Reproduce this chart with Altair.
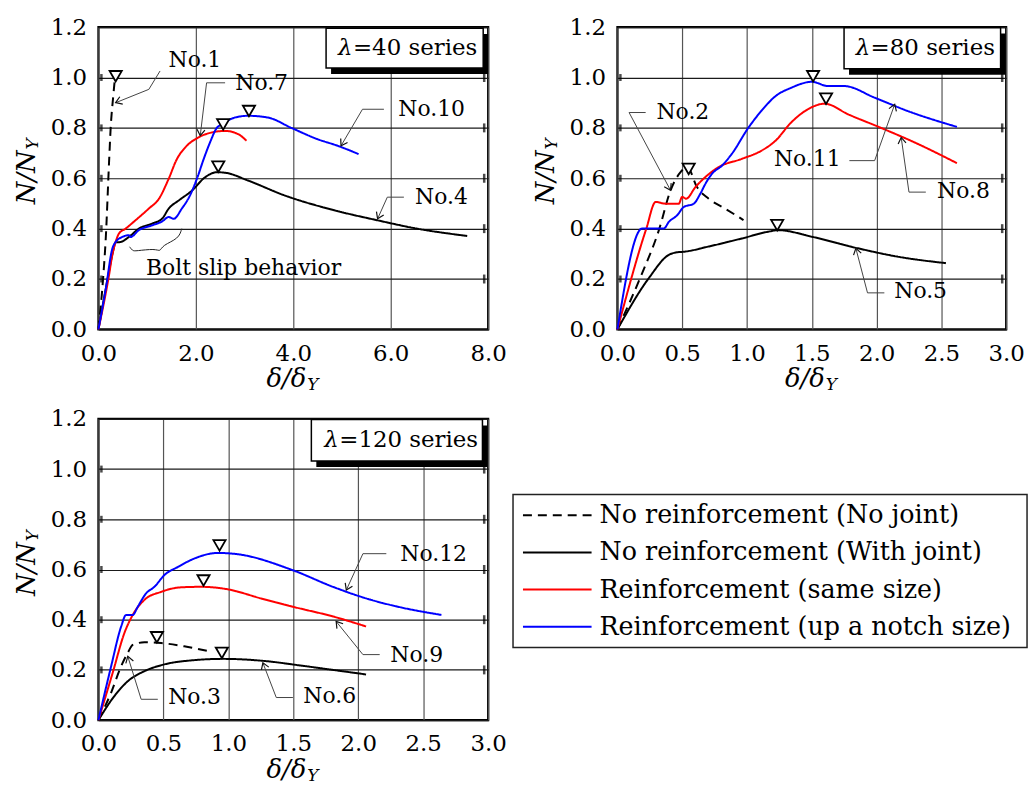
import math
import altair as alt
import pandas as pd

FONT = "DejaVu Serif"

# ---------------- legend categories ----------------
types = ["No reinforcement (No joint)", "No reinforcement (With joint)",
         "Reinforcement (same size)", "Reinforcement (up a notch size)"]
type_colors = ["#000000", "#000000", "#ff0000", "#0000ff"]
type_dash = [[9, 6], [1, 0], [1, 0], [1, 0]]

# ---------------- λ=40 series ----------------
no1_x = [0, 0.095, 0.15, 0.218, 0.25, 0.306, 0.333]
no1_y = [0, 0.20, 0.36, 0.663, 0.795, 0.93, 0.986]
no4_x = [0, 0.15, 0.30, 0.35, 0.455, 0.626, 0.83, 1.10, 1.31, 1.44, 1.65, 1.92, 2.19, 2.43, 2.60,
         3.07, 3.82, 4.84, 5.73, 6.54, 7.57]
no4_y = [0, 0.16, 0.31, 0.345, 0.347, 0.367, 0.40, 0.42, 0.44, 0.479, 0.512, 0.551, 0.604, 0.624,
         0.622, 0.591, 0.532, 0.473, 0.433, 0.40, 0.371]
no7_x = [0, 0.204, 0.30, 0.353, 0.42, 0.557, 0.76, 1.03, 1.24, 1.44, 1.61, 1.78, 2.05, 2.33, 2.6,
         2.87, 3.04]
no7_y = [0, 0.2, 0.31, 0.347, 0.38, 0.40, 0.433, 0.479, 0.518, 0.597, 0.676, 0.722, 0.762, 0.782,
         0.788, 0.775, 0.749]
no10_x = [0, 0.15, 0.286, 0.353, 0.49, 0.626, 0.66, 0.83, 1.10, 1.31, 1.44, 1.545, 1.71, 1.88, 2.02,
          2.16, 2.29, 2.43, 2.53, 2.80, 3.07, 3.48, 3.96, 4.50, 4.91, 5.34]
no10_y = [0, 0.16, 0.321, 0.347, 0.367, 0.374, 0.367, 0.394, 0.413, 0.429, 0.446, 0.439, 0.479, 0.532,
          0.597, 0.676, 0.742, 0.80, 0.814, 0.841, 0.848, 0.841, 0.80, 0.755, 0.729, 0.696]
p1_mark_x = [0.354, 2.56, 3.09, 2.46]
p1_mark_y = [1.005, 0.814, 0.867, 0.646]
p1_lab_text = ["No.1", "No.7", "No.10", "No.4", "Bolt slip behavior"]
p1_lab_x = [1.98, 3.35, 6.84, 7.04, 2.98]
p1_lab_y = [1.07, 0.979, 0.876, 0.525, 0.242]
p1_leaders = {
    "No.1": ([1.265, 1.035, 0.353], [1.026, 0.953, 0.90]),
    "No.7": ([2.60, 2.22, 2.09], [0.979, 0.979, 0.769]),
    "No.10": ([5.86, 5.42, 4.98], [0.874, 0.874, 0.729]),
    "No.4": ([6.27, 5.93, 5.73], [0.525, 0.525, 0.439]),
}
p1_brace_x = [0.64, 0.70, 0.76, 1.17, 1.27, 1.31, 1.65, 1.71]
p1_brace_y = [0.328, 0.312, 0.311, 0.321, 0.308, 0.334, 0.36, 0.40]
p1_box_x = [4.673, 7.898]
p1_box_y = [1.038, 1.196]

# ---------------- λ=80 series ----------------
no2_x = [0, 0.18, 0.32, 0.41, 0.487, 0.54, 0.614, 0.704, 0.83, 0.973]
no2_y = [0, 0.21, 0.394, 0.552, 0.624, 0.644, 0.565, 0.519, 0.48, 0.434]
no5_x = [0, 0.243, 0.397, 0.448, 0.525, 0.704, 0.96, 1.165, 1.24, 1.50, 1.856, 2.16, 2.535]
no5_y = [0, 0.204, 0.296, 0.305, 0.309, 0.329, 0.361, 0.388, 0.394, 0.368, 0.322, 0.289, 0.263]
no8_x = [0, 0.223, 0.295, 0.372, 0.474, 0.499, 0.53, 0.602, 0.679, 0.78, 0.96, 1.11, 1.22, 1.34,
         1.47, 1.60, 1.78, 2.035, 2.32, 2.62]
no8_y = [0, 0.40, 0.506, 0.499, 0.499, 0.526, 0.519, 0.565, 0.605, 0.644, 0.677, 0.709, 0.749,
         0.821, 0.874, 0.896, 0.854, 0.80, 0.736, 0.66]
no11_x = [0, 0.192, 0.359, 0.397, 0.461, 0.512, 0.589, 0.64, 0.679, 0.73, 0.806, 0.883, 1.01, 1.11,
          1.22, 1.34, 1.50, 1.626, 1.75, 1.985, 2.24, 2.62]
no11_y = [0, 0.401, 0.401, 0.427, 0.453, 0.486, 0.499, 0.539, 0.578, 0.618, 0.650, 0.697, 0.80,
          0.867, 0.926, 0.959, 0.983, 0.966, 0.966, 0.92, 0.867, 0.804]
p2_mark_x = [0.55, 1.51, 1.61, 1.233]
p2_mark_y = [0.637, 1.005, 0.916, 0.414]
p2_lab_text = ["No.2", "No.11", "No.8", "No.5"]
p2_lab_x = [0.505, 1.465, 2.67, 2.34]
p2_lab_y = [0.862, 0.677, 0.551, 0.153]
p2_leaders = {
    "No.2": ([0.218, 0.09, 0.41], [0.861, 0.861, 0.552]),
    "No.11": ([1.79, 1.985, 2.14], [0.67, 0.67, 0.894]),
    "No.8": ([2.38, 2.25, 2.19], [0.545, 0.545, 0.762]),
    "No.5": ([2.06, 1.93, 1.84], [0.145, 0.145, 0.322]),
}
p2_box_x = [1.749, 2.957]
p2_box_y = [1.035, 1.198]

# ---------------- λ=120 series ----------------
no3_x = [0, 0.098, 0.175, 0.226, 0.264, 0.354, 0.483, 0.66, 0.855]
no3_y = [0, 0.11, 0.215, 0.268, 0.30, 0.31, 0.307, 0.294, 0.274]
no6_x = [0, 0.123, 0.226, 0.354, 0.508, 0.74, 0.958, 1.29, 1.55, 1.805, 2.06]
no6_y = [0, 0.096, 0.155, 0.195, 0.222, 0.239, 0.244, 0.235, 0.218, 0.20, 0.182]
no9_x = [0, 0.11, 0.20, 0.264, 0.354, 0.483, 0.637, 0.79, 0.996, 1.25, 1.51, 1.805, 2.06]
no9_y = [0, 0.189, 0.347, 0.419, 0.479, 0.511, 0.529, 0.531, 0.521, 0.485, 0.45, 0.413, 0.373]
no12_x = [0, 0.098, 0.175, 0.213, 0.264, 0.303, 0.367, 0.431, 0.508, 0.611, 0.74, 0.919, 1.07,
          1.497, 1.805, 2.06, 2.32, 2.64]
no12_y = [0, 0.215, 0.373, 0.419, 0.419, 0.452, 0.505, 0.531, 0.578, 0.61, 0.644, 0.666, 0.661,
          0.597, 0.531, 0.485, 0.45, 0.419]
p3_mark_x = [0.45, 0.932, 0.809, 0.95]
p3_mark_y = [0.33, 0.696, 0.556, 0.268]
p3_lab_text = ["No.12", "No.9", "No.3", "No.6"]
p3_lab_x = [2.58, 2.45, 0.74, 1.78]
p3_lab_y = [0.663, 0.261, 0.09, 0.096]
p3_leaders = {
    "No.12": ([2.216, 2.036, 1.908], [0.663, 0.663, 0.518]),
    "No.9": ([2.165, 2.036, 1.83], [0.261, 0.261, 0.393]),
    "No.3": ([0.457, 0.329, 0.226], [0.083, 0.083, 0.254]),
    "No.6": ([1.497, 1.369, 1.266], [0.09, 0.09, 0.228]),
}
p3_box_x = [1.639, 2.956]
p3_box_y = [1.032, 1.197]

Y_TICKS = [0, 0.2, 0.4, 0.6, 0.8, 1.0, 1.2]


def curves_df(curves):
    rows = []
    for name, t, xs, ys in curves:
        for i, (a, b) in enumerate(zip(xs, ys)):
            rows.append({"series": name, "type": types[t], "x": a, "y": b, "i": i})
    return pd.DataFrame(rows)


def make_panel(curves, mk_x, mk_y, lab_t, lab_x, lab_y, leaders, box_x, box_y, box_rest,
               xmax, xticks, W, H, brace=None):
    xs = alt.Scale(domain=[0, xmax], nice=False)
    ys = alt.Scale(domain=[0, 1.2], nice=False)
    xaxis = alt.Axis(values=xticks, format=".1f", title="", ticks=False, domain=False,
                     labelPadding=13, labelFlush=False, gridColor="#555", gridWidth=1.2)
    yaxis = alt.Axis(values=Y_TICKS, format=".1f", title="", ticks=False, domain=False,
                     labelPadding=12, labelFlush=False, gridColor="#1a1a1a", gridWidth=1.2)

    def X(f="x"):
        return alt.X(f"{f}:Q", scale=xs, axis=xaxis)

    def Y(f="y"):
        return alt.Y(f"{f}:Q", scale=ys, axis=yaxis)

    cdf = curves_df(curves)
    lines = alt.Chart(cdf).mark_line(strokeWidth=2, interpolate="monotone").encode(
        x=X(), y=Y(),
        color=alt.Color("type:N", scale=alt.Scale(domain=types, range=type_colors), legend=None),
        strokeDash=alt.StrokeDash("type:N", scale=alt.Scale(domain=types, range=type_dash),
                                  legend=None),
        detail="series:N",
        order="i:Q",
    )

    # short inward ticks on left and right frame edges
    tdf = pd.DataFrame({"y": Y_TICKS[1:-1], "x0": [0] * 5, "x1": [xmax] * 5})
    tick_l = alt.Chart(tdf).mark_tick(color="black", thickness=2.5, size=7, xOffset=3).encode(
        x=X("x0"), y=Y())
    tick_r = alt.Chart(tdf).mark_tick(color="black", thickness=2.5, size=9, xOffset=-4).encode(
        x=X("x1"), y=Y())

    # leaders
    lrows, arows = [], []
    for name, (lx, ly) in leaders.items():
        for i, (a, b) in enumerate(zip(lx, ly)):
            lrows.append({"lab": name, "x": a, "y": b, "i": i})
        dx = (lx[-1] - lx[-2]) * W / xmax
        dy = -(ly[-1] - ly[-2]) * H / 1.2
        ang = math.degrees(math.atan2(dy, dx)) % 360
        arows.append({"x": lx[-1], "y": ly[-1], "ang": ang})
    lead = alt.Chart(pd.DataFrame(lrows)).mark_line(stroke="#444", strokeWidth=1).encode(
        x=X(), y=Y(), detail="lab:N", order="i:Q")
    arrows = alt.Chart(pd.DataFrame(arows)).mark_point(
        shape="M -1 -0.65 L 0 0 L -1 0.65", filled=False, stroke="#111", strokeWidth=1.2,
        size=150, opacity=1).encode(x=X(), y=Y(), angle=alt.Angle("ang:Q", scale=None))

    layers = [lines, tick_l, tick_r, lead, arrows]
    if brace is not None:
        bdf = pd.DataFrame({"x": brace[0], "y": brace[1], "i": list(range(len(brace[0])))})
        layers.append(alt.Chart(bdf).mark_line(stroke="#222", strokeWidth=1,
                                               interpolate="basis").encode(
            x=X(), y=Y(), order="i:Q"))

    markers = alt.Chart(pd.DataFrame({"x": mk_x, "y": mk_y})).mark_point(
        shape="triangle-down", size=150, filled=True, fill="white", stroke="black",
        strokeWidth=1.8, opacity=1).encode(x=X(), y=Y())

    bdf = pd.DataFrame({"x": [box_x[0]], "x2": [box_x[1]], "y": [box_y[0]], "y2": [box_y[1]],
                        "cx": [(box_x[0] + box_x[1]) / 2], "cy": [(box_y[0] + box_y[1]) / 2],
                        "lam": ["λ"], "t": [box_rest]})
    shadow = alt.Chart(bdf).mark_rect(fill="black", xOffset=5, yOffset=6, x2Offset=5,
                                      y2Offset=6).encode(x=X(), x2="x2:Q", y=Y(), y2="y2:Q")
    box = alt.Chart(bdf).mark_rect(fill="white", stroke="black", strokeWidth=1.5).encode(
        x=X(), x2="x2:Q", y=Y(), y2="y2:Q")
    half = (len(box_rest) * 11.9 + 15) / 2
    box_lam = alt.Chart(bdf).mark_text(font=FONT, fontSize=23, fontStyle="italic", color="black",
                                       align="left", dx=-half).encode(
        x=X("cx"), y=Y("cy"), text="lam:N")
    box_txt = alt.Chart(bdf).mark_text(font=FONT, fontSize=23, color="black", align="left",
                                       dx=-half + 15).encode(
        x=X("cx"), y=Y("cy"), text="t:N")

    labels = alt.Chart(pd.DataFrame({"x": lab_x, "y": lab_y, "t": lab_t})).mark_text(
        font=FONT, fontSize=22, color="black").encode(x=X(), y=Y(), text="t:N")

    def txt(t, x, y, size, angle=0, align="center"):
        return alt.Chart(pd.DataFrame({"t": [t]})).mark_text(
            font=FONT, fontSize=size, fontStyle="italic", color="black", angle=angle,
            align=align, baseline="middle").encode(x=alt.value(x), y=alt.value(y), text="t:N")

    ytitle = txt("N/N", -72, 124, 26, angle=270, align="right")
    ysub = txt("Y", -66, 123, 17, angle=270, align="left")
    xtitle = txt("δ/δ", W / 2 + 13, H + 50, 26, align="right")
    xsub = txt("Y", W / 2 + 14, H + 56, 17, align="left")

    layers += [markers, shadow, box, box_lam, box_txt, labels, ytitle, ysub, xtitle, xsub]
    return alt.layer(*layers).properties(width=W, height=H)


p1 = make_panel(
    [("No.1", 0, no1_x, no1_y), ("No.4", 1, no4_x, no4_y), ("No.7", 2, no7_x, no7_y),
     ("No.10", 3, no10_x, no10_y)],
    p1_mark_x, p1_mark_y, p1_lab_text, p1_lab_x, p1_lab_y, p1_leaders, p1_box_x, p1_box_y,
    "=40 series", 8, [0, 2, 4, 6, 8], 392, 304, brace=(p1_brace_x, p1_brace_y))
p2 = make_panel(
    [("No.2", 0, no2_x, no2_y), ("No.5", 1, no5_x, no5_y), ("No.8", 2, no8_x, no8_y),
     ("No.11", 3, no11_x, no11_y)],
    p2_mark_x, p2_mark_y, p2_lab_text, p2_lab_x, p2_lab_y, p2_leaders, p2_box_x, p2_box_y,
    "=80 series", 3, [0, 0.5, 1, 1.5, 2, 2.5, 3], 391, 304)
p3 = make_panel(
    [("No.3", 0, no3_x, no3_y), ("No.6", 1, no6_x, no6_y), ("No.9", 2, no9_x, no9_y),
     ("No.12", 3, no12_x, no12_y)],
    p3_mark_x, p3_mark_y, p3_lab_text, p3_lab_x, p3_lab_y, p3_leaders, p3_box_x, p3_box_y,
    "=120 series", 3, [0, 0.5, 1, 1.5, 2, 2.5, 3], 392, 303)

# ---------------- legend panel (sits in the grid cell under the λ=80 panel) ----------------
LX = -105  # legend box starts left of the grid cell
ldf = pd.DataFrame({"type": types, "row": list(range(len(types)))})
ly = alt.Y("row:Q", scale=alt.Scale(domain=[0, len(types) - 1], range=[97, 209]), axis=None)
leg_box = alt.Chart(pd.DataFrame({"a": [0]})).mark_rect(
    fill="white", stroke="#222", strokeWidth=1.5).encode(
    x=alt.value(LX), x2=alt.value(LX + 517), y=alt.value(76), y2=alt.value(230))
leg_lines = alt.Chart(ldf).mark_rule(strokeWidth=2).encode(
    x=alt.value(LX + 10), x2=alt.value(LX + 79), y=ly,
    color=alt.Color("type:N", scale=alt.Scale(domain=types, range=type_colors), legend=None),
    strokeDash=alt.StrokeDash("type:N", scale=alt.Scale(domain=types, range=type_dash),
                              legend=None))
leg_text = alt.Chart(ldf).mark_text(font=FONT, fontSize=25.5, align="left", baseline="middle",
                                    color="black").encode(x=alt.value(LX + 87), y=ly,
                                                          text="type:N")
legend = alt.layer(leg_box, leg_lines, leg_text).properties(
    width=391, height=230, view=alt.ViewBackground(stroke="transparent"))

chart = alt.concat(p1, p2, p3, legend, columns=2, spacing={"row": 90, "column": 130},
                   bounds="flush").properties(
    padding={"left": 12, "top": 12, "right": 5, "bottom": 5}
).configure_view(stroke="black", strokeWidth=2.2).configure_axis(
    labelFont=FONT, labelFontSize=23, labelColor="black", titleFont=FONT)

chart.save("out.html", embed_options={"renderer": "svg", "actions": False})
